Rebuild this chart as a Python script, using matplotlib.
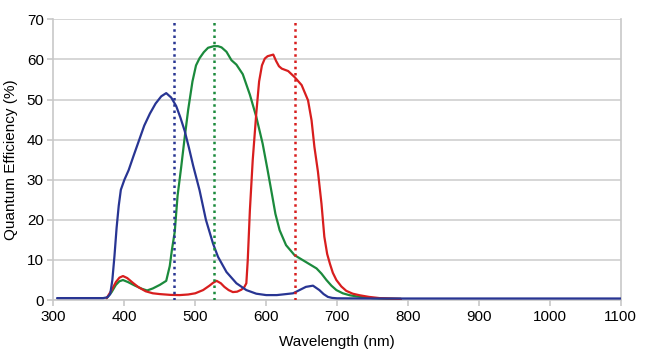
import matplotlib
matplotlib.use("Agg")
import matplotlib.pyplot as plt

plt.rcParams['font.family'] = ['Liberation Sans', 'DejaVu Sans']

blue_nm = [305, 370, 376, 380, 383, 386, 389, 392, 395, 400, 406, 413, 421, 428, 436, 444, 452, 459, 466, 473, 479, 485, 491, 497, 506, 515, 525, 532, 544, 558, 572, 586, 600, 615, 628, 638, 647, 656, 666, 675, 681, 687, 693, 700, 750, 800, 900, 1000, 1100]
blue_qe = [0.5, 0.5, 0.7, 1.5, 5.0, 11.0, 18.0, 23.5, 27.5, 30.0, 32.4, 36.0, 40.0, 43.5, 46.5, 49.0, 50.8, 51.6, 50.5, 48.4, 45.5, 42.2, 38.0, 33.5, 27.4, 20.0, 14.1, 10.8, 7.0, 4.2, 2.5, 1.6, 1.25, 1.25, 1.5, 1.7, 2.5, 3.3, 3.6, 2.5, 1.5, 0.8, 0.55, 0.45, 0.4, 0.4, 0.4, 0.4, 0.4]

green_nm = [375, 382, 388, 393, 398, 405, 415, 425, 432, 440, 450, 459, 464, 467, 471, 475, 480, 485, 490, 496, 501, 506, 512, 518, 526, 532, 537, 544, 551, 558, 567, 577, 586, 595, 602, 608, 613, 619, 628, 640, 656, 671, 678, 685, 692, 699, 708, 718, 732, 750, 770, 790]
green_qe = [0.5, 2.0, 3.8, 4.7, 5.0, 4.5, 3.6, 2.8, 2.4, 2.9, 3.8, 4.8, 8.5, 12.5, 17.0, 26.0, 33.0, 40.5, 47.5, 54.5, 58.5, 60.3, 61.8, 62.9, 63.3, 63.3, 63.0, 61.9, 59.8, 58.7, 56.3, 51.2, 45.7, 39.0, 32.4, 26.5, 21.5, 17.4, 13.7, 11.2, 9.5, 7.9, 6.6, 5.0, 3.6, 2.5, 1.7, 1.2, 0.8, 0.5, 0.35, 0.3]

red_nm = [375, 382, 388, 393, 398, 404, 412, 420, 430, 440, 450, 465, 478, 490, 500, 511, 520, 525, 530, 536, 541, 547, 553, 559, 565, 569, 572, 574, 577, 581, 586, 590, 594, 598, 602, 606, 610, 614, 618, 622, 631, 640, 650, 659, 664, 668, 673, 678, 682, 686, 690, 694, 699, 706, 713, 722, 732, 745, 760, 790]
red_qe = [0.5, 2.5, 4.5, 5.6, 6.0, 5.5, 4.3, 3.2, 2.2, 1.7, 1.5, 1.3, 1.25, 1.4, 1.7, 2.5, 3.6, 4.3, 4.8, 4.2, 3.3, 2.5, 2.0, 2.1, 2.6, 3.2, 4.2, 10.0, 22.4, 34.9, 46.5, 54.5, 58.5, 60.2, 60.8, 61.0, 61.2, 59.6, 58.3, 57.7, 57.1, 55.6, 53.6, 49.8, 44.8, 38.2, 32.0, 24.0, 15.8, 11.5, 9.0, 6.8, 5.0, 3.4, 2.3, 1.6, 1.2, 0.8, 0.5, 0.3]

peak_lines = [470, 527, 640]

x_ticks = [300, 400, 500, 600, 700, 800, 900, 1000, 1100]
y_ticks = [0, 10, 20, 30, 40, 50, 60, 70]

c_blue = '#283593'
c_green = '#1b8a3c'
c_red = '#d81e1e'

fig = plt.figure(figsize=(6.5, 3.56), dpi=100)
ax = fig.add_axes([0.0823, 0.157, 0.9549 - 0.0823, 0.9458 - 0.157])

ax.set_xlim(300, 1100)
ax.set_ylim(0, 70)
ax.set_xticks(x_ticks)
ax.set_yticks(y_ticks)
ax.grid(axis='y', color='#d0d0d0', linewidth=1.2)
ax.set_axisbelow(True)

for s in ['left', 'bottom', 'right']:
    ax.spines[s].set_color('#c8c8c8')
    ax.spines[s].set_linewidth(1.2)
ax.spines['top'].set_visible(False)

ax.tick_params(axis='y', length=4, color='#c8c8c8', width=1.2, labelsize=11, pad=3)
ax.tick_params(axis='x', length=4, color='#c8c8c8', width=1.2, labelsize=11, pad=3)

kw = dict(lw=1.6, solid_joinstyle='round', solid_capstyle='round')
ax.plot(green_nm, green_qe, color=c_green, zorder=3, **kw)
ax.plot(red_nm, red_qe, color=c_red, zorder=4, **kw)
ax.plot(blue_nm, blue_qe, color=c_blue, zorder=5, **kw)

for x, c in zip(peak_lines, [c_blue, c_green, c_red]):
    ax.axvline(x, color=c, lw=1.8, linestyle=(0, (1, 1.5)), zorder=6)

ax.set_xlabel('Wavelength (nm)', fontsize=11, labelpad=8)
ax.set_ylabel('Quantum Efficiency (%)', fontsize=11, labelpad=6)

fig.savefig('out.png', dpi=100)
